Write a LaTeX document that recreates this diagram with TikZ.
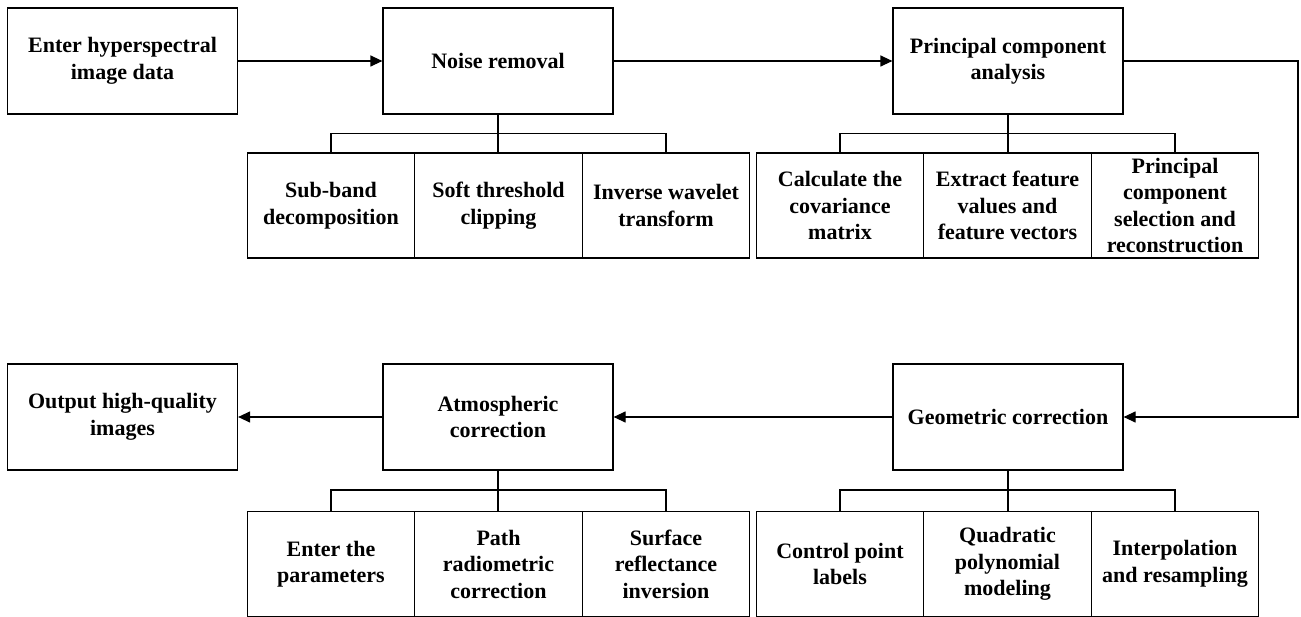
\documentclass[tikz,border=0pt]{standalone}
\usepackage{fontspec}
\setmainfont{Liberation Serif}
\usetikzlibrary{arrows.meta}
\begin{document}
\begin{tikzpicture}[x=1pt,y=-1pt,
  every node/.style={font=\fontsize{22}{26.5}\selectfont\bfseries, align=center, inner sep=1pt},
  mainbox/.style={draw, line width=1.2pt, minimum width=230pt, minimum height=106pt},
  subbox/.style={draw, line width=1.2pt, minimum width=167.5pt, minimum height=105pt},
  conn/.style={line width=1.2pt},
  arr/.style={conn, -{Triangle[length=12pt,width=11pt]}}]
\useasboundingbox (0,0) rectangle (1301,617);
% main boxes
\node[mainbox] (in) at (122.5,61) {Enter hyperspectral\\image data};
\node[mainbox] (noise) at (498,61) {Noise removal};
\node[mainbox] (pca) at (1008,61) {Principal component\\analysis};
\node[mainbox] (out) at (122.5,417) {Output high-quality\\images};
\node[mainbox] (atm) at (498,417) {Atmospheric\\correction};
\node[mainbox] (geo) at (1008,417) {Geometric correction};
% sub boxes, top row
\node[subbox] (n1) at (331,205.5) {Sub-band\\decomposition};
\node[subbox] (n2) at (498.5,205.5) {Soft threshold\\clipping};
\node[subbox] (n3) at (666,205.5) {Inverse wavelet\\transform};
\node[subbox] (p1) at (840,205.5) {Calculate the\\covariance\\matrix};
\node[subbox] (p2) at (1007.5,205.5) {Extract feature\\values and\\feature vectors};
\node[subbox] (p3) at (1175,205.5) {Principal\\component\\selection and\\reconstruction};
% sub boxes, bottom row
\node[subbox] (a1) at (331,564) {Enter the\\parameters};
\node[subbox] (a2) at (498.5,564) {Path\\radiometric\\correction};
\node[subbox] (a3) at (666,564) {Surface\\reflectance\\inversion};
\node[subbox] (g1) at (840,564) {Control point\\labels};
\node[subbox] (g2) at (1007.5,564) {Quadratic\\polynomial\\modeling};
\node[subbox] (g3) at (1175,564) {Interpolation\\and resampling};
% brackets
\coordinate (nb) at (498,133.5);
\coordinate (pb) at (1008,133.5);
\coordinate (ab) at (498,490);
\coordinate (gb) at (1008,490);
\draw[conn] (noise.south) -- (noise.south |- n2.north);
\draw[conn] (n1.north) -- (n1.north |- nb) -- (n3.north |- nb) -- (n3.north);
\draw[conn] (pca.south) -- (pca.south |- p2.north);
\draw[conn] (p1.north) -- (p1.north |- pb) -- (p3.north |- pb) -- (p3.north);
\draw[conn] (atm.south) -- (atm.south |- a2.north);
\draw[conn] (a1.north) -- (a1.north |- ab) -- (a3.north |- ab) -- (a3.north);
\draw[conn] (geo.south) -- (geo.south |- g2.north);
\draw[conn] (g1.north) -- (g1.north |- gb) -- (g3.north |- gb) -- (g3.north);
% flow arrows
\coordinate (turn) at (1298,61);
\draw[arr] (in.east) -- (noise.west);
\draw[arr] (noise.east) -- (pca.west);
\draw[arr] (pca.east) -- (turn) |- (geo.east);
\draw[arr] (geo.west) -- (atm.east);
\draw[arr] (atm.west) -- (out.east);
\end{tikzpicture}
\end{document}
